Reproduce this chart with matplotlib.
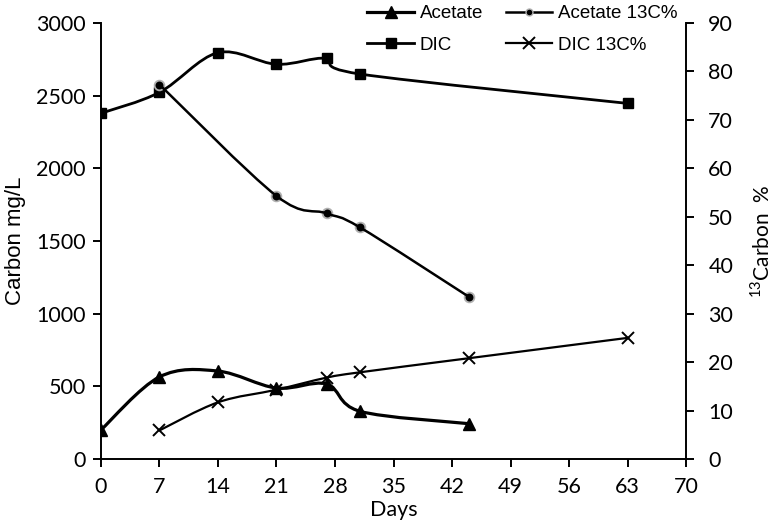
import numpy as np
import matplotlib.pyplot as plt
from matplotlib.path import Path
from matplotlib.patches import PathPatch
from matplotlib.lines import Line2D

# values
acetate_days = [0, 7, 14, 21, 27, 31, 44]
acetate_c = [200, 565, 605, 488, 516, 328, 243]

dic_days = [0, 7, 14, 21, 27, 31, 63]
dic_c = [2379, 2523, 2796, 2716, 2757, 2649, 2447]

acetate13_days = [7, 21, 27, 31, 44]
acetate13_pct = [77.3, 54.3, 50.7, 47.8, 33.5]

dic13_days = [7, 14, 21, 27, 31, 44, 63]
dic13_pct = [5.9, 11.7, 14.3, 16.8, 17.9, 20.8, 25.0]

day_ticks = [0, 7, 14, 21, 28, 35, 42, 49, 56, 63, 70]

XLIM = (0, 70)


def smooth_path(xs, ys, xlim, ylim):
    # spreadsheet-style smoothed line: cubic bezier through the points,
    # control points worked out in axes-fraction space so spacing looks even
    sx = (np.asarray(xs, float) - xlim[0]) / (xlim[1] - xlim[0])
    sy = (np.asarray(ys, float) - ylim[0]) / (ylim[1] - ylim[0])
    pts = np.column_stack([sx, sy])
    n = len(pts)
    verts = [pts[0]]
    codes = [Path.MOVETO]
    for i in range(n - 1):
        p0 = pts[i - 1] if i > 0 else pts[i]
        p1 = pts[i]
        p2 = pts[i + 1]
        p3 = pts[i + 2] if i + 2 < n else pts[i + 1]
        c1 = p1 + (p2 - p0) / 6.0
        c2 = p2 - (p3 - p1) / 6.0
        verts += [c1, c2, p2]
        codes += [Path.CURVE4] * 3
    verts = np.array(verts)
    verts[:, 0] = verts[:, 0] * (xlim[1] - xlim[0]) + xlim[0]
    verts[:, 1] = verts[:, 1] * (ylim[1] - ylim[0]) + ylim[0]
    return Path(verts, codes)


fig = plt.figure(figsize=(7.75, 5.28), dpi=100)
ax = fig.add_axes([0.1303, 0.1307, 0.7549, 0.8257])
ax2 = ax.twinx()

ax.set_xlim(*XLIM)
ax.set_ylim(0, 3000)
ax2.set_ylim(0, 90)

tick_font = 'Lato'
tick_size = 15.5

# left axis series
ax.add_patch(PathPatch(smooth_path(acetate_days, acetate_c, XLIM, (0, 3000)),
                       fill=False, lw=2.3, color='black', zorder=3))
ax.plot(acetate_days, acetate_c, ls='none', color='black', marker='^', ms=9)
ax.add_patch(PathPatch(smooth_path(dic_days, dic_c, XLIM, (0, 3000)),
                       fill=False, lw=2.0, color='black', zorder=3))
ax.plot(dic_days, dic_c, ls='none', color='black', marker='s', ms=7)

# right axis series
ax2.add_patch(PathPatch(smooth_path(acetate13_days, acetate13_pct, XLIM, (0, 90)),
                        fill=False, lw=1.8, color='black', zorder=3))
ax2.plot(acetate13_days, acetate13_pct, ls='none', color='black',
         marker='o', ms=7, mec='#b0b0b0', mew=1.3)
ax2.add_patch(PathPatch(smooth_path(dic13_days, dic13_pct, XLIM, (0, 90)),
                        fill=False, lw=1.6, color='black', zorder=3))
ax2.plot(dic13_days, dic13_pct, ls='none', color='black', marker='x',
         ms=8, mew=1.4)

ax.set_xticks(day_ticks)
ax.set_yticks(range(0, 3001, 500))
ax2.set_yticks(range(0, 91, 10))

for a in (ax, ax2):
    a.spines['top'].set_visible(False)
    for s in a.spines.values():
        s.set_linewidth(1.4)
    a.tick_params(direction='out', length=6, width=1.4, labelsize=tick_size)
    for lab in a.get_xticklabels() + a.get_yticklabels():
        lab.set_fontfamily(tick_font)
ax.tick_params(axis='y', pad=5)
ax.tick_params(axis='x', pad=7)
ax2.tick_params(axis='y', pad=10)
ax.spines['right'].set_visible(False)
ax2.spines['left'].set_visible(False)
ax2.spines['bottom'].set_visible(False)

ax.set_xlabel('Days', fontsize=tick_size, family=tick_font, labelpad=2)
ax.set_ylabel('Carbon mg/L', fontsize=16, family='Liberation Sans', labelpad=7)
ax2.set_ylabel('$^{\\mathregular{13}}$Carbon  %', fontsize=15, family=tick_font,
               rotation=90, labelpad=12)

# legend: column-major order so rows read Acetate / Acetate 13C%, DIC / DIC 13C%
handles = [
    Line2D([], [], color='black', lw=2.3, marker='^', ms=9),
    Line2D([], [], color='black', lw=2.0, marker='s', ms=7),
    Line2D([], [], color='black', lw=1.8, marker='o', ms=5, mec='#b0b0b0'),
    Line2D([], [], color='black', lw=1.6, marker='x', ms=8, mew=1.4),
]
labels = ['Acetate', 'DIC', 'Acetate 13C%', 'DIC 13C%']
fig.legend(handles, labels, ncol=2, loc='upper left',
           bbox_to_anchor=(0.452, 1.022), frameon=False,
           prop={'family': 'Liberation Sans', 'size': 13.5},
           handlelength=2.5, handletextpad=0.3, columnspacing=1.2,
           labelspacing=0.75)

fig.savefig('out.png', dpi=100)
